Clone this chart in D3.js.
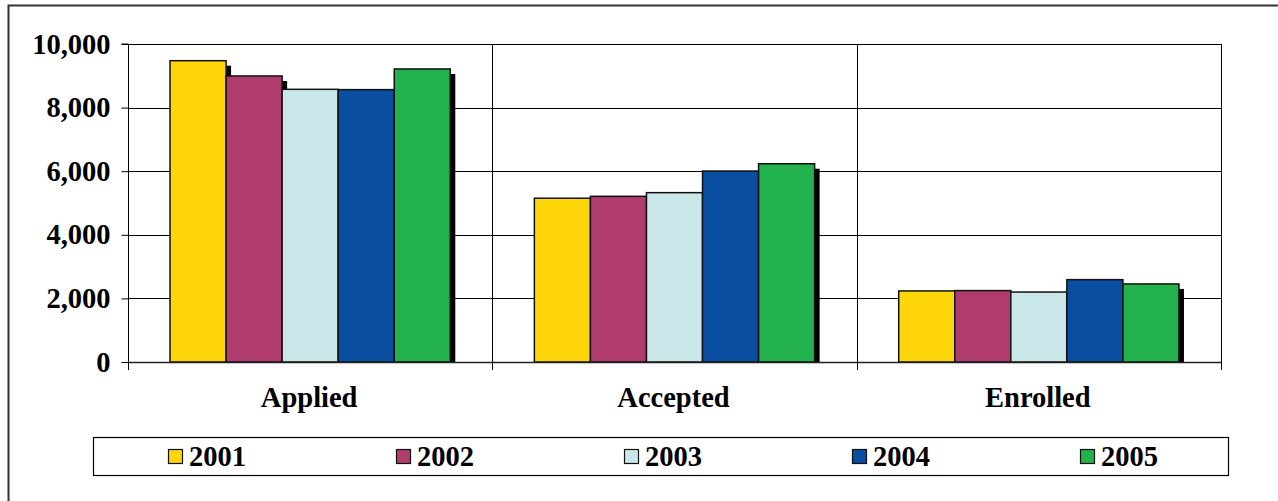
<!DOCTYPE html>
<html>
<head>
<meta charset="utf-8">
<script src="https://cdn.jsdelivr.net/npm/d3@7"></script>
<style>
  html, body { margin: 0; padding: 0; background: #fff; }
  svg { display: block; }
  text { font-family: "Liberation Serif", "Times New Roman", serif; font-weight: bold; fill: #000; }
</style>
</head>
<body>
<svg id="chart" width="1278" height="501"></svg>
<script>
const categories = ["Applied", "Accepted", "Enrolled"];
const seriesNames = ["2001", "2002", "2003", "2004", "2005"];
const seriesColors = ["#FFD60A", "#B03C6E", "#C9E7E9", "#0A4EA2", "#22B14C"];
const values2001 = [9475, 5150, 2235];
const values2002 = [8995, 5210, 2245];
const values2003 = [8575, 5325, 2200];
const values2004 = [8565, 6005, 2590];
const values2005 = [9215, 6235, 2455];
const yTicks = [0, 2000, 4000, 6000, 8000, 10000];

const seriesValues = [values2001, values2002, values2003, values2004, values2005];
const FS = "28.5px";

const svg = d3.select("#chart");
const m = { left: 128, top: 44, right: 1221, bottom: 362 };

// outer border
svg.append("rect").attr("x", 8.5).attr("y", 5.5).attr("width", 1300).attr("height", 600)
  .attr("fill", "none").attr("stroke", "#333").attr("stroke-width", 2);

const x0 = d3.scaleBand().domain(categories).range([m.left, m.right]).paddingInner(0).paddingOuter(0);
const barW = x0.bandwidth() / (seriesNames.length + 1.5);
const x1 = d3.scaleBand().domain(seriesNames)
  .range([0, barW * seriesNames.length]);
const y = d3.scaleLinear().domain([0, 10000]).range([m.bottom, m.top]);

// horizontal gridlines
svg.append("g").selectAll("line").data(yTicks.filter(d => d > 0)).join("line")
  .attr("x1", m.left).attr("x2", m.right)
  .attr("y1", d => Math.round(y(d)) + 0.5).attr("y2", d => Math.round(y(d)) + 0.5)
  .attr("stroke", "#000").attr("stroke-width", 1);

// vertical gridlines at category boundaries
const bounds = categories.map(c => x0(c) + x0.bandwidth());
svg.append("g").selectAll("line").data(bounds).join("line")
  .attr("x1", d => Math.round(d) + 0.5).attr("x2", d => Math.round(d) + 0.5)
  .attr("y1", m.top).attr("y2", m.bottom)
  .attr("stroke", "#000").attr("stroke-width", 1);

// clip for shadows
svg.append("clipPath").attr("id", "plotclip").append("rect")
  .attr("x", m.left).attr("y", m.top - 10).attr("width", m.right - m.left).attr("height", m.bottom - m.top + 10);

const barsG = svg.append("g").attr("clip-path", "url(#plotclip)");
const groupOffset = (x0.bandwidth() - barW * seriesNames.length) / 2;

categories.forEach((cat, ci) => {
  seriesNames.forEach((s, si) => {
    const v = seriesValues[si][ci];
    const bx = x0(cat) + groupOffset + x1(s);
    const by = y(v);
    const bh = m.bottom - by;
    barsG.append("rect")
      .attr("x", bx + 5).attr("y", by + 5).attr("width", barW).attr("height", bh)
      .attr("fill", "#000");
    barsG.append("rect")
      .attr("x", bx).attr("y", by).attr("width", barW).attr("height", bh)
      .attr("fill", seriesColors[si]).attr("stroke", "#111").attr("stroke-width", 1.5);
  });
});

// y axis
const yAxis = d3.axisLeft(y).tickValues(yTicks).tickSize(7).tickPadding(11)
  .tickFormat(d3.format(","));
const ya = svg.append("g").attr("transform", `translate(${m.left + 0.5},0)`).call(yAxis);
ya.select(".domain").attr("stroke", "#000").attr("d", `M-7,${m.top}H0V${m.bottom}`);
ya.selectAll(".tick line").attr("stroke", "#000");
ya.selectAll(".tick text").style("font-family", '"Liberation Serif", serif')
  .style("font-weight", "bold").style("font-size", FS).attr("fill", "#000");

// x axis
const xAxis = d3.axisBottom(x0).tickSize(0).tickPadding(0).tickFormat("");
const xa = svg.append("g").attr("transform", `translate(0,${m.bottom + 0.5})`).call(xAxis);
xa.select(".domain").attr("stroke", "#222").attr("stroke-width", 1.5).attr("d", `M${m.left},0H${m.right}`);
// category boundary ticks
svg.append("g").selectAll("line").data([m.left].concat(bounds)).join("line")
  .attr("x1", d => Math.round(d) + 0.5).attr("x2", d => Math.round(d) + 0.5)
  .attr("y1", m.bottom).attr("y2", m.bottom + 8)
  .attr("stroke", "#000").attr("stroke-width", 1);
// category labels
svg.append("g").selectAll("text").data(categories).join("text")
  .attr("x", d => x0(d) + x0.bandwidth() / 2 - 1)
  .attr("y", 407)
  .attr("text-anchor", "middle")
  .style("font-size", FS)
  .text(d => d);

// legend
const lg = svg.append("g");
lg.append("rect").attr("x", 93.5).attr("y", 437.5).attr("width", 1135).attr("height", 38)
  .attr("fill", "#fff").attr("stroke", "#000").attr("stroke-width", 1.2);
const legX = d3.scalePoint().domain(seriesNames).range([168, 1080]);
const items = lg.selectAll("g.item").data(seriesNames).join("g").attr("class", "item")
  .attr("transform", d => `translate(${legX(d)},0)`);
items.append("rect").attr("x", 0.5).attr("y", 449.5).attr("width", 14).attr("height", 14)
  .attr("fill", (d, i) => seriesColors[i]).attr("stroke", "#111").attr("stroke-width", 1.2);
items.append("text").attr("x", 21).attr("y", 466).style("font-size", FS).text(d => d);
</script>
</body>
</html>
